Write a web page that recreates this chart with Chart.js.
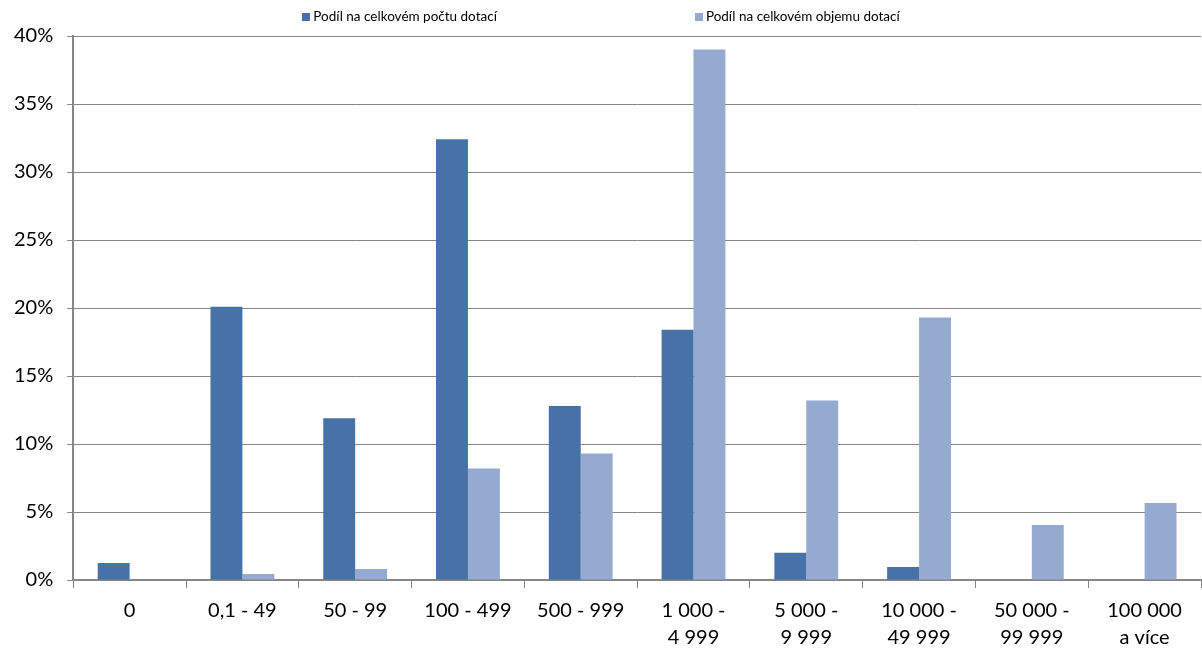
<!DOCTYPE html>
<html>
<head>
<meta charset="utf-8">
<script src="https://cdn.jsdelivr.net/npm/chart.js@4"></script>
<style>
  html, body { margin: 0; padding: 0; background: #fff; overflow: hidden; }
  #wrap { position: relative; width: 1202px; height: 649px; overflow: hidden; }
  #legend { position: absolute; top: 8px; left: 0; width: 1202px; text-align: center;
            font-family: Lato, sans-serif; font-size: 13.5px; color: #000; }
  #legend span.item { display: inline-block; margin: 0 99px; }
  #legend span.box { display: inline-block; width: 8px; height: 8px; margin-right: 3px; vertical-align: 0px; }
  canvas { display: block; }
</style>
</head>
<body>
<div id="wrap">
  <div id="legend"></div>
  <canvas id="chart" width="1202" height="649"></canvas>
</div>
<script>
// --- Data ---
const categories = [
    '0', '0,1 - 49', '50 - 99', '100 - 499', '500 - 999',
    ['1 000 -', '4 999'], ['5 000 -', '9 999'], ['10 000 -', '49 999'],
    ['50 000 -', '99 999'], ['100 000', 'a více']
];
const seriesNames = ['Podíl na celkovém počtu dotací', 'Podíl na celkovém objemu dotací'];
const countShare = [1.25, 20.1, 11.9, 32.4, 12.8, 18.4, 2.0, 0.95, 0, 0];
const volumeShare = [0, 0.45, 0.8, 8.2, 9.3, 39.0, 13.2, 19.3, 4.05, 5.66];
const colors = ['#4672A8', '#95AAD1'];

// --- Legend (html) ---
const legendEl = document.getElementById('legend');
seriesNames.forEach((name, i) => {
    const item = document.createElement('span');
    item.className = 'item';
    item.innerHTML = '<span class="box" style="background:' + colors[i] + '"></span>' + name;
    legendEl.appendChild(item);
});

// --- Chart ---
const font = { family: 'Lato, sans-serif', size: 20, lineHeight: 1.35 };
const ctx = document.getElementById('chart').getContext('2d');
window.chart = new Chart(ctx, {
    type: 'bar',
    data: {
        labels: categories,
        datasets: [
            { label: seriesNames[0], data: countShare, backgroundColor: colors[0] },
            { label: seriesNames[1], data: volumeShare, backgroundColor: colors[1] }
        ]
    },
    options: {
        responsive: false,
        animation: false,
        layout: { padding: { top: 36, right: 1, left: 0, bottom: 0 } },
        datasets: { bar: { categoryPercentage: 0.566, barPercentage: 1.0 } },
        plugins: { legend: { display: false }, tooltip: { enabled: false } },
        scales: {
            x: {
                afterFit: scale => { scale.height = 69; },
                grid: { offset: true, drawOnChartArea: false, drawTicks: true, tickLength: 8, color: '#868686' },
                border: { color: '#868686', width: 2 },
                ticks: { color: '#000', font: font, maxRotation: 0, autoSkip: false, padding: 9 }
            },
            y: {
                min: 0, max: 40,
                grid: { color: '#868686', lineWidth: 1, tickLength: 6 },
                border: { color: '#868686', width: 2 },
                ticks: { stepSize: 5, color: '#000', font: { family: 'Lato, sans-serif', size: 20 }, padding: 14,
                         callback: v => v + '%' }
            }
        }
    }
});
</script>
</body>
</html>
